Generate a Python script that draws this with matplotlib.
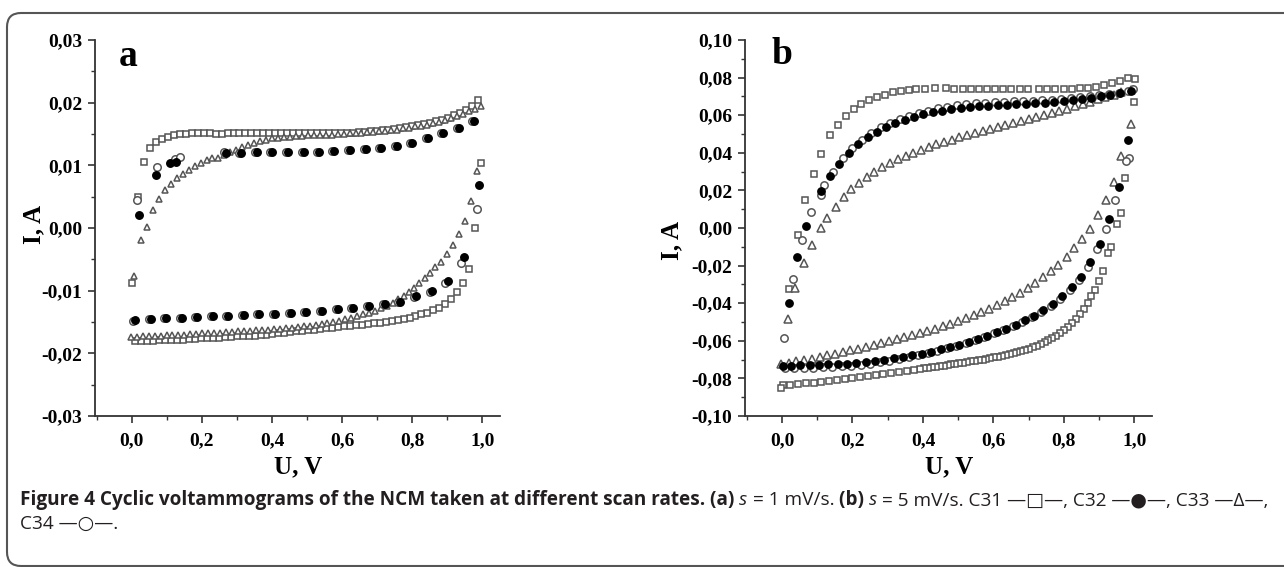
import matplotlib
matplotlib.use("Agg")
import matplotlib.pyplot as plt
from matplotlib.ticker import MultipleLocator, FuncFormatter
from matplotlib.patches import FancyBboxPatch
from matplotlib.transforms import IdentityTransform

# ---------------- panel a (s = 1 mV/s) ----------------
a_c31_u = [0.000, 0.017, 0.034, 0.052, 0.069, 0.086, 0.103, 0.120, 0.137, 0.154, 0.171, 0.188, 0.205, 0.222,
           0.239, 0.256, 0.273, 0.290, 0.307, 0.324, 0.341, 0.358, 0.375, 0.392, 0.409, 0.426, 0.443, 0.460,
           0.477, 0.494, 0.511, 0.528, 0.545, 0.562, 0.579, 0.596, 0.613, 0.630, 0.647, 0.664, 0.681, 0.698,
           0.715, 0.732, 0.749, 0.766, 0.783, 0.800, 0.817, 0.834, 0.851, 0.868, 0.885, 0.902, 0.919, 0.936,
           0.953, 0.970, 0.987,
           0.995, 0.980, 0.962, 0.945, 0.928, 0.911, 0.894, 0.877, 0.860, 0.843, 0.826, 0.809, 0.792, 0.775,
           0.758, 0.741, 0.724, 0.707, 0.690, 0.673, 0.656, 0.639, 0.622, 0.605, 0.588, 0.571, 0.554, 0.537,
           0.520, 0.503, 0.486, 0.469, 0.452, 0.435, 0.418, 0.401, 0.384, 0.367, 0.350, 0.333, 0.316, 0.299,
           0.282, 0.265, 0.248, 0.231, 0.214, 0.197, 0.180, 0.163, 0.146, 0.129, 0.112, 0.095, 0.078, 0.061,
           0.044, 0.027, 0.010]
a_c31_i = [-0.0088, 0.0050, 0.0106, 0.0127, 0.0137, 0.0142, 0.0146, 0.0148, 0.0150, 0.0150, 0.0151, 0.0152,
           0.0152, 0.0151, 0.0150, 0.0150, 0.0151, 0.0151, 0.0152, 0.0152, 0.0152, 0.0152, 0.0152, 0.0152,
           0.0152, 0.0151, 0.0151, 0.0151, 0.0151, 0.0151, 0.0151, 0.0151, 0.0151, 0.0151, 0.0151, 0.0152,
           0.0152, 0.0152, 0.0153, 0.0153, 0.0154, 0.0155, 0.0156, 0.0157, 0.0158, 0.0159, 0.0161, 0.0162,
           0.0164, 0.0166, 0.0168, 0.0170, 0.0173, 0.0176, 0.0180, 0.0184, 0.0189, 0.0195, 0.0204,
           0.0103, 0.0000, -0.0066, -0.0088, -0.0102, -0.0113, -0.0121, -0.0127, -0.0131, -0.0135, -0.0138,
           -0.0141, -0.0143, -0.0145, -0.0147, -0.0149, -0.0150, -0.0151, -0.0152, -0.0153, -0.0154, -0.0155,
           -0.0156, -0.0157, -0.0158, -0.0159, -0.0160, -0.0161, -0.0162, -0.0163, -0.0164, -0.0165, -0.0166,
           -0.0167, -0.0168, -0.0169, -0.0170, -0.0171, -0.0172, -0.0172, -0.0173, -0.0173, -0.0174, -0.0174,
           -0.0175, -0.0175, -0.0176, -0.0176, -0.0177, -0.0177, -0.0178, -0.0178, -0.0178, -0.0179, -0.0179,
           -0.0180, -0.0180, -0.0180, -0.0181]

a_c33_u = [0.005, 0.027, 0.043, 0.060, 0.077, 0.094, 0.111, 0.128, 0.145, 0.162, 0.179, 0.196, 0.213, 0.230,
           0.247, 0.264, 0.281, 0.298, 0.315, 0.332, 0.349, 0.366, 0.383, 0.400, 0.417, 0.434, 0.451, 0.468,
           0.485, 0.502, 0.519, 0.536, 0.553, 0.570, 0.587, 0.604, 0.621, 0.638, 0.655, 0.672, 0.689, 0.706,
           0.723, 0.740, 0.757, 0.774, 0.791, 0.808, 0.825, 0.842, 0.859, 0.876, 0.893, 0.910, 0.927, 0.944,
           0.961, 0.978, 0.995,
           0.985, 0.967, 0.949, 0.934, 0.916, 0.900, 0.883, 0.866, 0.850, 0.835, 0.820, 0.805, 0.790, 0.775,
           0.760, 0.745, 0.728, 0.711, 0.694, 0.677, 0.660, 0.643, 0.626, 0.609, 0.592, 0.575, 0.558, 0.541,
           0.524, 0.507, 0.490, 0.473, 0.456, 0.439, 0.422, 0.405, 0.388, 0.371, 0.354, 0.337, 0.320, 0.303,
           0.286, 0.269, 0.252, 0.235, 0.218, 0.201, 0.184, 0.167, 0.150, 0.133, 0.116, 0.099, 0.082, 0.065,
           0.048, 0.031, 0.014, -0.002]
a_c33_i = [-0.0076, -0.0019, 0.0001, 0.0029, 0.0047, 0.0061, 0.0071, 0.0079, 0.0086, 0.0093, 0.0099, 0.0104,
           0.0108, 0.0111, 0.0112, 0.0117, 0.0121, 0.0125, 0.0129, 0.0133, 0.0136, 0.0139, 0.0141, 0.0143,
           0.0144, 0.0145, 0.0146, 0.0147, 0.0147, 0.0148, 0.0148, 0.0149, 0.0149, 0.0149, 0.0150, 0.0150,
           0.0151, 0.0151, 0.0152, 0.0153, 0.0153, 0.0154, 0.0155, 0.0156, 0.0157, 0.0159, 0.0160, 0.0162,
           0.0163, 0.0165, 0.0167, 0.0169, 0.0172, 0.0175, 0.0178, 0.0182, 0.0186, 0.0190, 0.0194,
           0.0091, 0.0043, 0.0011, -0.0010, -0.0027, -0.0042, -0.0054, -0.0063, -0.0072, -0.0080, -0.0088,
           -0.0095, -0.0102, -0.0108, -0.0114, -0.0119, -0.0124, -0.0128, -0.0132, -0.0135, -0.0138, -0.0141,
           -0.0143, -0.0146, -0.0148, -0.0150, -0.0152, -0.0153, -0.0155, -0.0156, -0.0157, -0.0158, -0.0159,
           -0.0160, -0.0161, -0.0161, -0.0162, -0.0163, -0.0163, -0.0164, -0.0165, -0.0165, -0.0166, -0.0166,
           -0.0167, -0.0167, -0.0168, -0.0168, -0.0169, -0.0169, -0.0170, -0.0170, -0.0171, -0.0171, -0.0172,
           -0.0172, -0.0173, -0.0173, -0.0174, -0.0174]

a_c34_u = [0.014, 0.072, 0.122, 0.136, 0.262, 0.305, 0.350, 0.394, 0.439, 0.484, 0.529, 0.572, 0.616, 0.661,
           0.705, 0.750, 0.794, 0.839, 0.882, 0.927, 0.971,
           0.985, 0.940, 0.894, 0.849, 0.804, 0.760, 0.715, 0.670, 0.625, 0.581, 0.536, 0.491, 0.447, 0.402,
           0.358, 0.313, 0.269, 0.225, 0.180, 0.136, 0.092, 0.048, 0.004]
a_c34_i = [0.0045, 0.0097, 0.0110, 0.0113, 0.0121, 0.0120, 0.0121, 0.0122, 0.0122, 0.0122, 0.0122, 0.0123,
           0.0124, 0.0126, 0.0128, 0.0131, 0.0136, 0.0143, 0.0151, 0.0160, 0.0171,
           0.0031, -0.0056, -0.0088, -0.0102, -0.0110, -0.0118, -0.0121, -0.0124, -0.0127, -0.0130, -0.0132,
           -0.0134, -0.0136, -0.0137, -0.0138, -0.0139, -0.0140, -0.0141, -0.0142, -0.0143, -0.0144, -0.0146,
           -0.0149]

a_c32_u = [0.020, 0.068, 0.110, 0.127, 0.268, 0.311, 0.356, 0.400, 0.445, 0.490, 0.535, 0.578, 0.622, 0.667,
           0.711, 0.756, 0.800, 0.845, 0.888, 0.933, 0.977,
           0.990, 0.946, 0.901, 0.855, 0.810, 0.766, 0.721, 0.676, 0.631, 0.587, 0.542, 0.497, 0.453, 0.408,
           0.364, 0.319, 0.275, 0.231, 0.186, 0.142, 0.098, 0.054, 0.010]
a_c32_i = [0.0021, 0.0085, 0.0103, 0.0106, 0.0120, 0.0120, 0.0121, 0.0122, 0.0122, 0.0122, 0.0122, 0.0123,
           0.0124, 0.0126, 0.0128, 0.0131, 0.0136, 0.0143, 0.0151, 0.0160, 0.0171,
           0.0069, -0.0046, -0.0085, -0.0101, -0.0109, -0.0118, -0.0121, -0.0124, -0.0127, -0.0130, -0.0132,
           -0.0134, -0.0136, -0.0137, -0.0138, -0.0139, -0.0140, -0.0141, -0.0142, -0.0143, -0.0144, -0.0145,
           -0.0147]

# ---------------- panel b (s = 5 mV/s) ----------------
b_c31_u = [0.019, 0.044, 0.066, 0.090, 0.112, 0.136, 0.160, 0.182, 0.203, 0.225, 0.248, 0.271, 0.292, 0.316,
           0.337, 0.359, 0.381, 0.405, 0.433, 0.464, 0.489, 0.513, 0.536, 0.559, 0.582, 0.605, 0.628, 0.651,
           0.674, 0.697, 0.730, 0.753, 0.776, 0.799, 0.822, 0.845, 0.868, 0.891, 0.914, 0.937, 0.960, 0.983,
           1.003,
           0.998, 0.974, 0.961, 0.950, 0.934, 0.925, 0.910, 0.900, 0.889, 0.878, 0.867, 0.856, 0.845, 0.833,
           0.822, 0.811, 0.800, 0.789, 0.778, 0.767, 0.756, 0.745, 0.734, 0.723, 0.712, 0.701, 0.690, 0.679,
           0.668, 0.657, 0.646, 0.635, 0.624, 0.613, 0.602, 0.591, 0.580, 0.569, 0.558, 0.547, 0.536, 0.525,
           0.514, 0.503, 0.492, 0.481, 0.470, 0.459, 0.448, 0.437, 0.426, 0.415, 0.404, 0.393, 0.376, 0.354,
           0.332, 0.310, 0.288, 0.266, 0.244, 0.222, 0.200, 0.178, 0.156, 0.134, 0.112, 0.090, 0.068, 0.046,
           0.024, 0.002, -0.003]
b_c31_i = [-0.0325, -0.0037, 0.0148, 0.0286, 0.0396, 0.0493, 0.0549, 0.0594, 0.0634, 0.0657, 0.0682, 0.0696,
           0.0710, 0.0721, 0.0728, 0.0735, 0.0739, 0.0742, 0.0743, 0.0743, 0.0742, 0.0741, 0.0740, 0.0740,
           0.0739, 0.0739, 0.0739, 0.0738, 0.0738, 0.0738, 0.0738, 0.0738, 0.0739, 0.0740, 0.0742, 0.0744,
           0.0747, 0.0752, 0.0760, 0.0770, 0.0782, 0.0796, 0.0792,
           0.0670, 0.0265, 0.0081, 0.0020, -0.0099, -0.0135, -0.0230, -0.0280, -0.0328, -0.0362, -0.0400,
           -0.0430, -0.0455, -0.0482, -0.0505, -0.0525, -0.0543, -0.0558, -0.0572, -0.0585, -0.0597, -0.0608,
           -0.0617, -0.0626, -0.0634, -0.0641, -0.0648, -0.0654, -0.0660, -0.0665, -0.0670, -0.0675, -0.0680,
           -0.0684, -0.0688, -0.0692, -0.0696, -0.0700, -0.0703, -0.0707, -0.0710, -0.0714, -0.0717, -0.0720,
           -0.0723, -0.0726, -0.0729, -0.0732, -0.0735, -0.0738, -0.0741, -0.0744, -0.0747, -0.0750, -0.0754,
           -0.0760, -0.0766, -0.0772, -0.0778, -0.0783, -0.0788, -0.0793, -0.0798, -0.0803, -0.0808, -0.0813,
           -0.0818, -0.0822, -0.0826, -0.0830, -0.0833, -0.0836, -0.0850]

b_c33_u = [0.016, 0.037, 0.063, 0.084, 0.110, 0.128, 0.153, 0.175, 0.197, 0.219, 0.241, 0.262, 0.285, 0.306,
           0.328, 0.351, 0.372, 0.394, 0.416, 0.438, 0.459, 0.482, 0.503, 0.525, 0.547, 0.569, 0.590, 0.613,
           0.634, 0.656, 0.678, 0.700, 0.722, 0.744, 0.766, 0.787, 0.810, 0.831, 0.853, 0.875, 0.897, 0.918,
           0.941, 0.963, 0.991,
           0.989, 0.963, 0.941, 0.920, 0.897, 0.873, 0.850, 0.829, 0.808, 0.784, 0.763, 0.740, 0.719, 0.697,
           0.675, 0.653, 0.632, 0.609, 0.588, 0.566, 0.544, 0.522, 0.500, 0.478, 0.456, 0.435, 0.412, 0.391,
           0.369, 0.347, 0.325, 0.304, 0.281, 0.260, 0.238, 0.216, 0.194, 0.172, 0.150, 0.128, 0.107, 0.084,
           0.063, 0.041, 0.021, -0.003]
b_c33_i = [-0.0484, -0.0320, -0.0187, -0.0090, -0.0002, 0.0051, 0.0113, 0.0166, 0.0205, 0.0240, 0.0272,
           0.0299, 0.0325, 0.0346, 0.0366, 0.0385, 0.0401, 0.0417, 0.0431, 0.0445, 0.0458, 0.0470, 0.0482,
           0.0493, 0.0505, 0.0516, 0.0527, 0.0537, 0.0548, 0.0558, 0.0569, 0.0580, 0.0590, 0.0602, 0.0613,
           0.0624, 0.0634, 0.0647, 0.0659, 0.0671, 0.0684, 0.0698, 0.0710, 0.0723, 0.0735,
           0.0555, 0.0382, 0.0246, 0.0148, 0.0069, -0.0007, -0.0060, -0.0108, -0.0152, -0.0196, -0.0231,
           -0.0261, -0.0293, -0.0320, -0.0346, -0.0369, -0.0390, -0.0412, -0.0431, -0.0449, -0.0465, -0.0481,
           -0.0495, -0.0509, -0.0523, -0.0535, -0.0548, -0.0558, -0.0569, -0.0580, -0.0590, -0.0601, -0.0611,
           -0.0622, -0.0631, -0.0641, -0.0650, -0.0659, -0.0668, -0.0678, -0.0687, -0.0696, -0.0703, -0.0708,
           -0.0717, -0.0726]

b_c34_u = [0.005, 0.030, 0.056, 0.083, 0.112, 0.120, 0.146, 0.172, 0.199, 0.226, 0.253, 0.280, 0.307, 0.334,
           0.361, 0.388, 0.415, 0.442, 0.469, 0.496, 0.523, 0.550, 0.577, 0.604, 0.631, 0.658, 0.685, 0.712,
           0.739, 0.766, 0.793, 0.820, 0.847, 0.874, 0.901, 0.928, 0.955, 0.982, 0.995,
           0.985, 0.975, 0.946, 0.920, 0.894, 0.869, 0.843, 0.816, 0.789, 0.762, 0.736, 0.709, 0.682, 0.655,
           0.628, 0.601, 0.574, 0.548, 0.521, 0.494, 0.467, 0.440, 0.413, 0.386, 0.359, 0.332, 0.305, 0.278,
           0.251, 0.224, 0.197, 0.170, 0.143, 0.116, 0.089, 0.062, 0.035, 0.008]
b_c34_i = [-0.0585, -0.0272, -0.0064, 0.0087, 0.0175, 0.0228, 0.0300, 0.0370, 0.0425, 0.0470, 0.0505, 0.0535,
           0.0560, 0.0580, 0.0598, 0.0612, 0.0625, 0.0636, 0.0645, 0.0652, 0.0658, 0.0663, 0.0666, 0.0669,
           0.0671, 0.0673, 0.0675, 0.0677, 0.0679, 0.0682, 0.0686, 0.0690, 0.0695, 0.0700, 0.0706, 0.0712,
           0.0720, 0.0728, 0.0740,
           0.0370, 0.0355, 0.0148, -0.0007, -0.0113, -0.0205, -0.0276, -0.0330, -0.0376, -0.0414, -0.0446,
           -0.0474, -0.0498, -0.0520, -0.0541, -0.0560, -0.0578, -0.0595, -0.0611, -0.0625, -0.0638, -0.0652,
           -0.0665, -0.0677, -0.0688, -0.0698, -0.0707, -0.0715, -0.0722, -0.0728, -0.0732, -0.0736, -0.0739,
           -0.0741, -0.0743, -0.0745, -0.0746, -0.0746]

b_c32_u = [0.019, 0.042, 0.069, 0.110, 0.136, 0.163, 0.189, 0.217, 0.244, 0.269, 0.295, 0.321, 0.349, 0.375,
           0.401, 0.428, 0.455, 0.481, 0.507, 0.533, 0.560, 0.586, 0.613, 0.639, 0.665, 0.693, 0.719, 0.745,
           0.772, 0.799, 0.825, 0.850, 0.878, 0.904, 0.931, 0.958, 0.989,
           0.981, 0.955, 0.928, 0.902, 0.875, 0.848, 0.822, 0.796, 0.769, 0.742, 0.716, 0.689, 0.663, 0.636,
           0.609, 0.583, 0.557, 0.530, 0.503, 0.477, 0.450, 0.424, 0.397, 0.370, 0.344, 0.318, 0.290, 0.264,
           0.238, 0.211, 0.185, 0.158, 0.131, 0.105, 0.079, 0.052, 0.025, 0.002]
b_c32_i = [-0.0400, -0.0155, 0.0011, 0.0198, 0.0276, 0.0343, 0.0399, 0.0445, 0.0484, 0.0511, 0.0537, 0.0558,
           0.0576, 0.0590, 0.0604, 0.0617, 0.0625, 0.0633, 0.0638, 0.0643, 0.0647, 0.0650, 0.0654, 0.0655,
           0.0657, 0.0659, 0.0663, 0.0666, 0.0671, 0.0677, 0.0682, 0.0687, 0.0694, 0.0701, 0.0710, 0.0717,
           0.0731,
           0.0466, 0.0216, 0.0046, -0.0085, -0.0182, -0.0258, -0.0314, -0.0364, -0.0405, -0.0438, -0.0466,
           -0.0491, -0.0514, -0.0535, -0.0555, -0.0572, -0.0590, -0.0606, -0.0620, -0.0633, -0.0645, -0.0657,
           -0.0668, -0.0678, -0.0687, -0.0694, -0.0701, -0.0708, -0.0714, -0.0719, -0.0723, -0.0726, -0.0726,
           -0.0728, -0.0730, -0.0731, -0.0732, -0.0735]

W, H = 1284, 567
fig = plt.figure(figsize=(W / 100, H / 100), dpi=100)
serif = "Liberation Serif"
grey = "#555555"


def px_axes(x0, x1, y0, y1):
    return fig.add_axes([x0 / W, 1 - y1 / H, (x1 - x0) / W, (y1 - y0) / H])


def style(ax, ylim, ymaj, ymin, ydig):
    ax.set_xlim(-0.105, 1.05)
    ax.set_ylim(*ylim)
    for s in ("top", "right"):
        ax.spines[s].set_visible(False)
    for s in ("left", "bottom"):
        ax.spines[s].set_color("#333333")
        ax.spines[s].set_linewidth(1.3)
    ax.xaxis.set_major_locator(MultipleLocator(0.2))
    ax.xaxis.set_minor_locator(MultipleLocator(0.1))
    ax.yaxis.set_major_locator(MultipleLocator(ymaj))
    ax.yaxis.set_minor_locator(MultipleLocator(ymin))
    ax.xaxis.set_major_formatter(FuncFormatter(lambda v, p: f"{v:.1f}".replace(".", ",").replace("-0,0", "0,0")))
    ax.yaxis.set_major_formatter(FuncFormatter(
        lambda v, p: ("0," + "0" * ydig) if abs(v) < 1e-9 else f"{v:.{ydig}f}".replace(".", ",")))
    ax.tick_params(which="major", direction="out", length=5, width=1.2, color="#333333",
                   labelsize=14, pad=4)
    ax.tick_params(which="minor", direction="out", length=3, width=1.0, color="#333333")
    for lab in ax.get_xticklabels() + ax.get_yticklabels():
        lab.set_fontfamily(serif)
        lab.set_fontweight("bold")
    ax.tick_params(axis="x", pad=7)


def draw(ax, c31, c32, c33, c34, ms):
    kw = dict(linestyle="none", markerfacecolor="white", markeredgecolor=grey, markeredgewidth=1.1)
    ax.plot(c31[0], c31[1], marker="s", markersize=ms[0], **kw)
    ax.plot(c33[0], c33[1], marker="^", markersize=ms[1], **kw)
    ax.plot(c34[0], c34[1], marker="o", markersize=ms[2], **kw)
    ax.plot(c32[0], c32[1], marker="o", markersize=ms[2], linestyle="none", color="black",
            markeredgecolor="black")


ax_a = px_axes(95, 500, 40, 416)
draw(ax_a, (a_c31_u, a_c31_i), (a_c32_u, a_c32_i), (a_c33_u, a_c33_i), (a_c34_u, a_c34_i), (4.3, 5.0, 5.4))
style(ax_a, (-0.03, 0.03), 0.01, 0.005, 2)

ax_b = px_axes(745, 1152, 40, 416)
draw(ax_b, (b_c31_u, b_c31_i), (b_c32_u, b_c32_i), (b_c33_u, b_c33_i), (b_c34_u, b_c34_i), (4.8, 5.3, 5.3))
style(ax_b, (-0.10, 0.10), 0.02, 0.01, 2)


def ftext(x, y, s, **kw):
    return fig.text(x / W, 1 - y / H, s, **kw)


ftext(128, 57, "a", fontsize=27, fontweight="bold", family=serif, ha="center", va="center")
ftext(782, 54, "b", fontsize=27, fontweight="bold", family=serif, ha="center", va="center")
ftext(34, 224, "I, A", fontsize=18, fontweight="bold", family=serif, ha="center", va="center", rotation=90)
ftext(672, 240, "I, A", fontsize=18, fontweight="bold", family=serif, ha="center", va="center", rotation=90)
ftext(298, 467, "U, V", fontsize=18, fontweight="bold", family=serif, ha="center", va="center")
ftext(949, 467, "U, V", fontsize=18, fontweight="bold", family=serif, ha="center", va="center")

# caption, written piece by piece
cap_font = ["Open Sans", "DejaVu Sans"]
cap_size = 13.7
cap_col = "#231f20"
line1 = [("Figure 4 Cyclic voltammograms of the NCM taken at different scan rates. ", "bold", "normal"),
         ("(a) ", "bold", "normal"), ("s", "normal", "italic"), (" = 1 mV/s. ", "normal", "normal"),
         ("(b) ", "bold", "normal"), ("s", "normal", "italic"),
         (" = 5 mV/s. C31 —□—, C32 —●—, C33 —Δ—,", "normal", "normal")]
line2 = [("C34 —○—.", "normal", "normal")]

renderer = fig.canvas.get_renderer()
for line, y in ((line1, 500), (line2, 524)):
    x = 20
    for txt, weight, style_ in line:
        t = ftext(x, y, txt, fontsize=cap_size, fontweight=weight, fontstyle=style_, family=cap_font,
                  color=cap_col, ha="left", va="center")
        bb = t.get_window_extent(renderer=renderer)
        x += bb.width

border = FancyBboxPatch((7, 1), 1320, 553, boxstyle="round,pad=0,rounding_size=14",
                        transform=IdentityTransform(), fill=False, edgecolor="#555555", linewidth=1.5)
fig.patches.append(border)

fig.savefig("out.png", dpi=100)
